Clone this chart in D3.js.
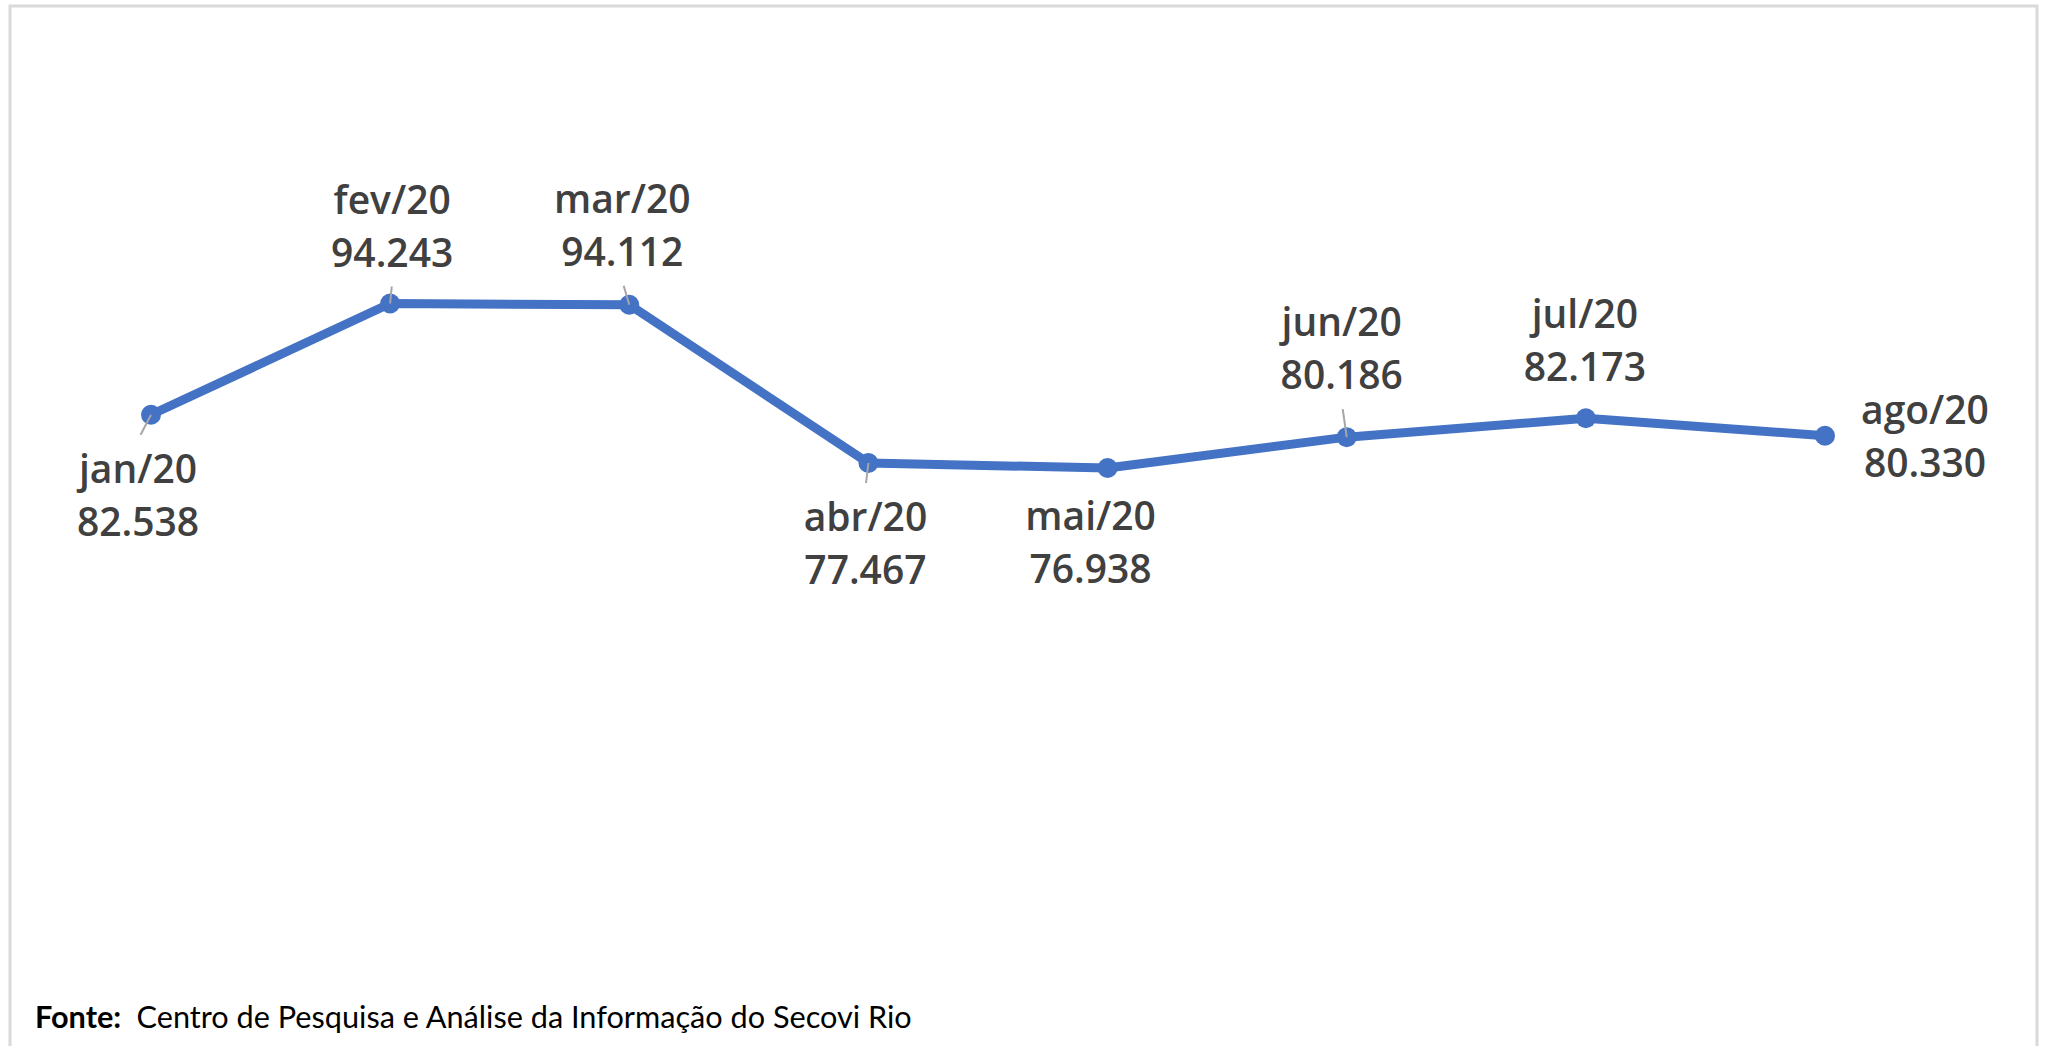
<!DOCTYPE html>
<html>
<head>
<meta charset="utf-8">
<script src="https://cdn.jsdelivr.net/npm/d3@7"></script>
<style>
  html, body { margin: 0; padding: 0; background: #fff; }
  svg { display: block; }
</style>
</head>
<body>
<script>
// ---- data ----
const months = ["jan/20", "fev/20", "mar/20", "abr/20", "mai/20", "jun/20", "jul/20", "ago/20"];
const values = [82538, 94243, 94112, 77467, 76938, 80186, 82173, 80330];
const valueLabels = ["82.538", "94.243", "94.112", "77.467", "76.938", "80.186", "82.173", "80.330"];
const labelSide = ["below", "above", "above", "below", "below", "above", "above", "right"];
const sourceBold = "Fonte:";
const sourceText = "Centro de Pesquisa e Análise da Informação do Secovi Rio";

// ---- layout (label nudges, as dragged in the original) ----
const labelNudge = [[-13, 0], [2, 0], [-7, -2], [-3, 0], [-17, -6], [-5, -11], [-1, 0], [0, 0]];
const hasLeader = [true, true, true, true, false, true, false, false];

const W = 2046, H = 1046;
const svg = d3.select("body").append("svg").attr("width", W).attr("height", H);

// frame
svg.append("rect")
  .attr("x", 10).attr("y", 6).attr("width", 2027).attr("height", H + 20)
  .attr("fill", "#fff").attr("stroke", "#d9d9d9").attr("stroke-width", 3);

const x = d3.scalePoint().domain(months).range([151, 1825]);
const y = d3.scaleLinear().domain([0, 100000]).range([1199.4, 248.8]);

const pts = months.map((m, i) => ({ m, v: values[i], lab: valueLabels[i], side: labelSide[i], nd: labelNudge[i], leader: hasLeader[i] }));

// line
const line = d3.line().x(d => x(d.m)).y(d => y(d.v));
svg.append("path").datum(pts)
  .attr("d", line)
  .attr("fill", "none")
  .attr("stroke", "#4472C4")
  .attr("stroke-width", 9)
  .attr("stroke-linejoin", "round");

// markers
svg.selectAll("circle.mk").data(pts).join("circle")
  .attr("class", "mk")
  .attr("cx", d => x(d.m)).attr("cy", d => y(d.v))
  .attr("r", 10)
  .attr("fill", "#4472C4");

// labels
const FS = 39, LH = 53;
const font = "'Open Sans', Lato, sans-serif";
pts.forEach(d => {
  const px = x(d.m), py = y(d.v);
  let cx, b1, anchor = "middle";
  if (d.side === "above") { cx = px; b1 = py - 37 - LH; }
  else if (d.side === "below") { cx = px; b1 = py + 68; }
  else { cx = px + 100; b1 = py - 12; }
  cx += d.nd[0]; b1 += d.nd[1];
  d.cx = cx; d.b1 = b1;
  const t = svg.append("text")
    .attr("font-family", font).attr("font-size", FS).attr("font-weight", 600)
    .attr("fill", "#404040").attr("text-anchor", anchor);
  t.append("tspan").attr("x", cx).attr("y", b1).text(d.m);
  t.append("tspan").attr("x", cx).attr("y", b1 + LH).text(d.lab);
});

// leader lines
pts.filter(d => d.leader).forEach(d => {
  const px = x(d.m), py = y(d.v);
  const ex = px + 0.8 * (d.cx - px);
  const ey = d.side === "above" ? d.b1 + LH + 20 : d.b1 - 48;
  svg.append("line")
    .attr("x1", px).attr("y1", py).attr("x2", ex).attr("y2", ey)
    .attr("stroke", "#a6a6a6").attr("stroke-width", 2);
});

// source note
const src = svg.append("text")
  .attr("x", 35).attr("y", 1028)
  .attr("font-family", "Lato, 'Open Sans', sans-serif").attr("font-size", 28).attr("fill", "#000");
src.append("tspan").attr("font-weight", "bold").text(sourceBold);
src.append("tspan").attr("dx", 14).text(sourceText);
// fit to the original's width
const wNow = src.node().getComputedTextLength();
const fs2 = 28 * 862 / wNow;
src.attr("font-size", fs2);
src.select("tspan:nth-child(2)").attr("dx", fs2 * 0.5);
</script>
</body>
</html>
